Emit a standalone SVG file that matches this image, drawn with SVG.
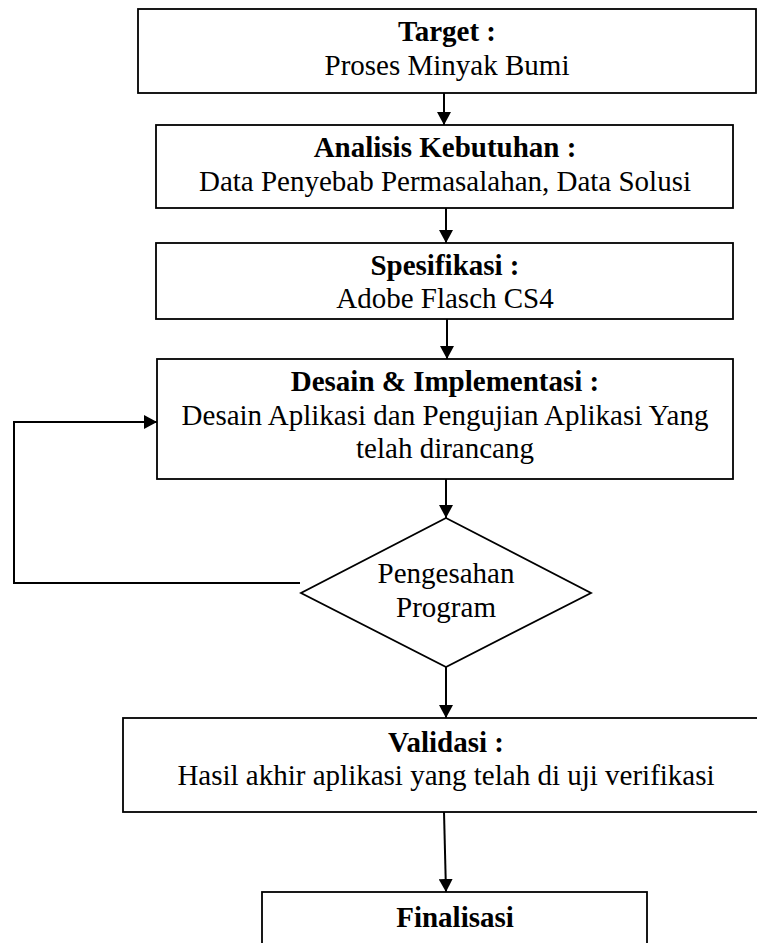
<svg xmlns="http://www.w3.org/2000/svg" width="757" height="943" viewBox="0 0 757 943">
<style>
.box{fill:#fff;stroke:#000;stroke-width:1.8}
.t{font-family:"Liberation Serif","Times New Roman",serif;font-size:29px;text-anchor:middle;fill:#000}
.b{font-weight:bold}
.c{fill:none;stroke:#000;stroke-width:2}
</style>
<defs>
<marker id="ah" markerUnits="userSpaceOnUse" markerWidth="14" markerHeight="14" refX="13" refY="7" orient="auto">
<path d="M0,0 L13,7 L0,14 z" fill="#000"/>
</marker>
</defs>
<rect width="757" height="943" fill="#fff"/>
<g id="connectors">
<line class="c" x1="444" y1="93" x2="444" y2="125" marker-end="url(#ah)"/>
<line class="c" x1="446" y1="208" x2="446" y2="243" marker-end="url(#ah)"/>
<line class="c" x1="447" y1="319" x2="447" y2="359" marker-end="url(#ah)"/>
<line class="c" x1="446" y1="479" x2="446" y2="518" marker-end="url(#ah)"/>
<line class="c" x1="446" y1="667" x2="446" y2="718" marker-end="url(#ah)"/>
<line class="c" x1="444" y1="812" x2="446" y2="892" marker-end="url(#ah)"/>
<polyline class="c" points="300,583 14,583 14,422 157,422" marker-end="url(#ah)"/>
</g>
<g id="n1">
<rect class="box" x="138" y="9" width="618" height="84"/>
<text class="t b" x="447" y="41">Target :</text>
<text class="t" x="447" y="75">Proses Minyak Bumi</text>
</g>
<g id="n2">
<rect class="box" x="156" y="125" width="577" height="83"/>
<text class="t b" x="445" y="157">Analisis Kebutuhan :</text>
<text class="t" x="445" y="191">Data Penyebab Permasalahan, Data Solusi</text>
</g>
<g id="n3">
<rect class="box" x="156" y="243" width="577" height="76"/>
<text class="t b" x="445" y="275">Spesifikasi :</text>
<text class="t" x="445" y="308">Adobe Flasch CS4</text>
</g>
<g id="n4">
<rect class="box" x="157" y="359" width="576" height="120"/>
<text class="t b" x="445" y="391">Desain &amp; Implementasi :</text>
<text class="t" x="445" y="425">Desain Aplikasi dan Pengujian Aplikasi Yang</text>
<text class="t" x="445" y="458">telah dirancang</text>
</g>
<g id="n5">
<polygon class="box" points="446,518 591,593 446,667 301,593"/>
<text class="t" x="446" y="583">Pengesahan</text>
<text class="t" x="446" y="617">Program</text>
</g>
<g id="n6">
<rect class="box" x="123" y="718" width="660" height="94"/>
<text class="t b" x="446" y="752">Validasi :</text>
<text class="t" x="446" y="785">Hasil akhir aplikasi yang telah di uji verifikasi</text>
</g>
<g id="n7">
<rect class="box" x="262" y="892" width="385" height="80"/>
<text class="t b" x="455" y="927">Finalisasi</text>
</g>
</svg>
